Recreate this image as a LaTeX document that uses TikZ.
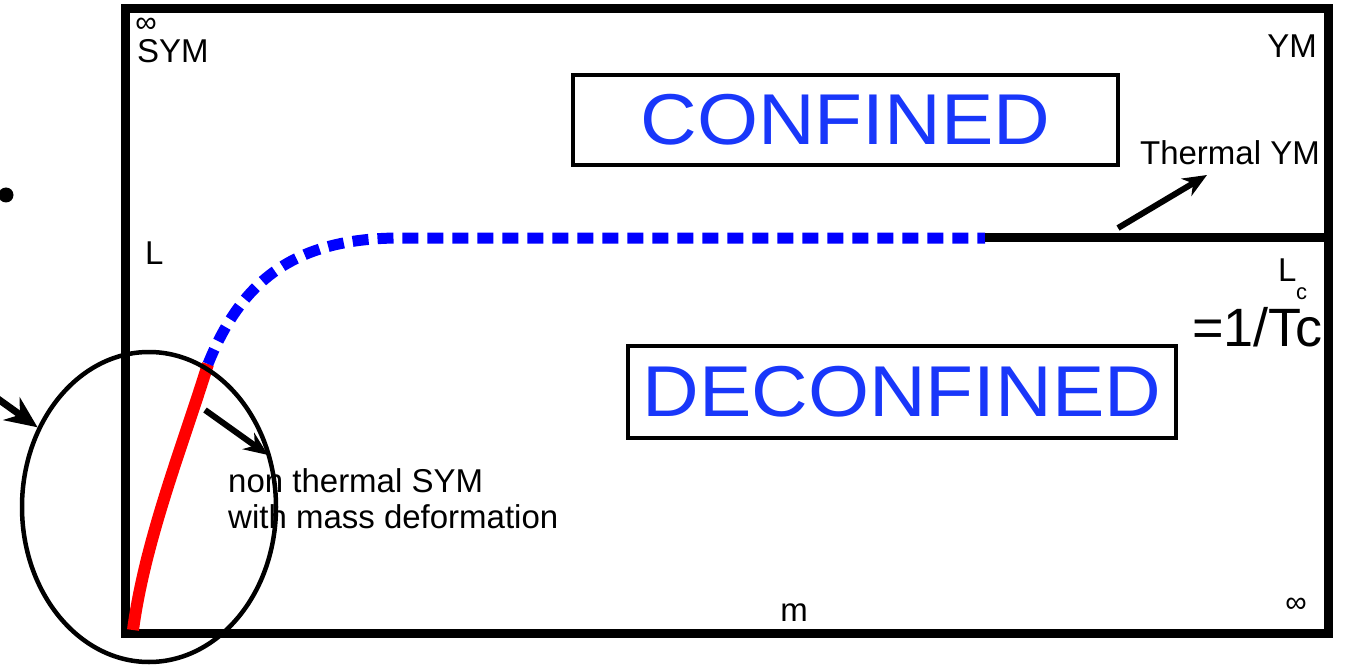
\documentclass[tikz,border=0pt]{standalone}
\usepackage{fontspec}
\usepackage{graphicx}
\setmainfont{Liberation Sans}
\usetikzlibrary{arrows.meta,shapes.geometric}
\definecolor{cblue}{RGB}{25,55,250}
\definecolor{dblue}{RGB}{0,0,255}
\definecolor{cred}{RGB}{255,0,0}
\tikzset{
  lbl/.style={inner sep=0pt, font=\fontsize{33}{36}\selectfont},
  bigword/.style={draw, line width=4.5pt, inner sep=0pt, text=cblue, font=\fontsize{72}{72}\selectfont},
  arr/.style={line width=6pt, -{Stealth[length=24pt,width=20pt]}},
  bigarr/.style={line width=7pt, -{Stealth[length=32pt,width=28pt]}},
  frameline/.style={line width=9pt},
}
\begin{document}
\begin{tikzpicture}[x=1pt,y=-1pt]
\useasboundingbox (0,0) rectangle (1345,666);
% frame
\draw[frameline] (125,9) rectangle (1328,633);
% regions
\node[bigword, minimum width=545pt, minimum height=90pt] (conf) at (845.5,120) {\scalebox{1.09}[1]{CONFINED}};
\node[bigword, minimum width=548pt, minimum height=92pt] (deconf) at (902,392) {\scalebox{1.09}[1]{DECONFINED}};
% curves
\coordinate (o) at (133,630);
\coordinate (p) at (208,364);
\coordinate (q) at (400,238);
\coordinate (s) at (985,237);
\coordinate (e) at (1328,237);
\draw[cred, line width=12pt] (o) .. controls (145,540) and (183,445) .. (p);
\draw[dblue, line width=11pt, dash pattern=on 16pt off 9pt] (p) .. controls (240,285) and (290,238) .. (q) -- (985,238);
\draw[line width=9pt] (s) -- (e);
% ellipse and arrows
\node[draw, ellipse, line width=4.5pt, minimum width=254pt, minimum height=310pt, inner sep=0pt] (circ) at (149,507) {};
\node[circle, fill, minimum size=15pt, inner sep=0pt] (dot) at (6,195) {};
\coordinate (src) at (-2,399);
\draw[bigarr] (src) -- (circ);
\coordinate (a1) at (205,410);
\coordinate (a2) at (268,455);
\draw[arr] (a1) -- (a2);
\coordinate (b1) at (1118,228);
\coordinate (b2) at (1207,175);
\draw[arr] (b1) -- (b2);
% labels
\node[lbl, anchor=base west] (sym) at (137,63) {SYM};
\node[lbl, anchor=base, font=\fontsize{30}{30}\selectfont] (inf1) at (146,33) {∞};
\node[lbl, anchor=base east] (ym) at (1317,58) {YM};
\node[lbl, anchor=base west] (L) at (145,264) {L};
\node[lbl, anchor=base] (m) at (794,621) {m};
\node[lbl, anchor=base, font=\fontsize{30}{30}\selectfont] (inf2) at (1296,612) {∞};
\node[lbl, anchor=base east] (thym) at (1320,165) {Thermal YM};
\node[lbl, anchor=base west, align=left] (nts) at (228,528) {non thermal SYM\\with mass deformation};
\node[lbl, anchor=base west] (Lc) at (1278,281) {L};
\node[lbl, anchor=base west, font=\fontsize{22}{22}\selectfont] (c) at (1296,299) {c};
\node[lbl, anchor=base east, font=\fontsize{54}{54}\selectfont] (tc) at (1323,346) {=1/Tc};
\end{tikzpicture}
\end{document}
